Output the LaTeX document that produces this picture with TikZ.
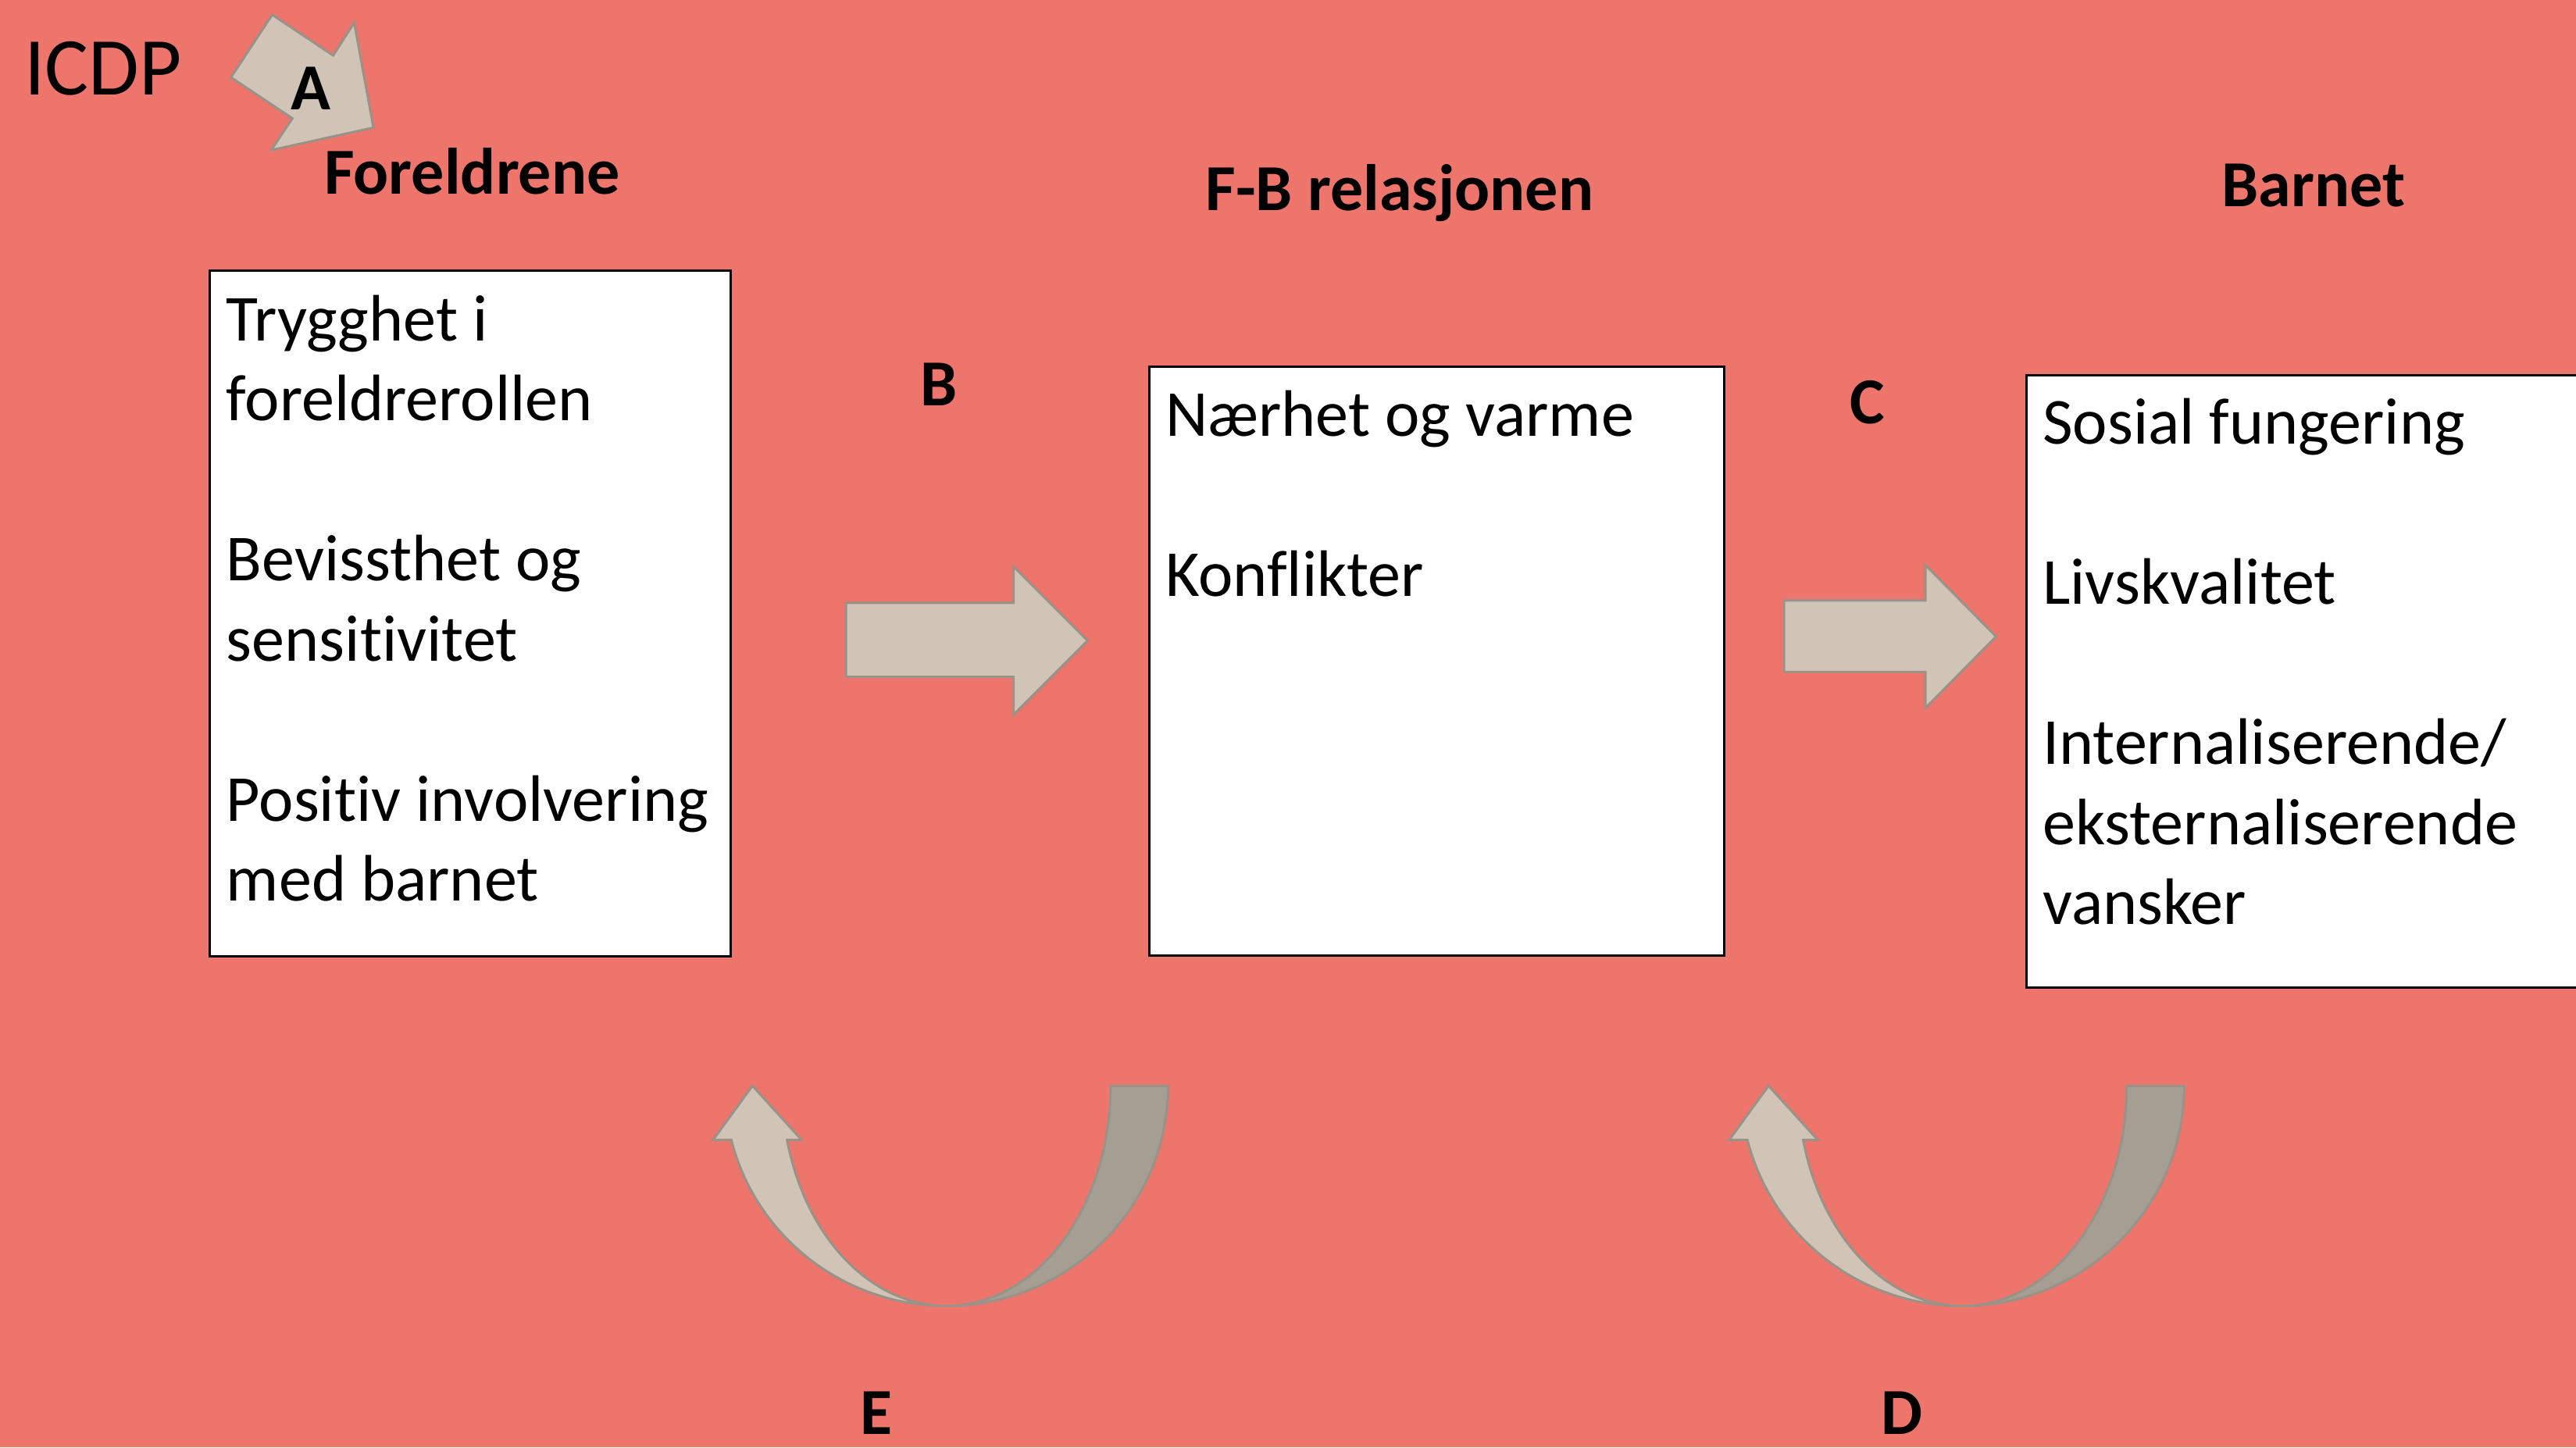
\documentclass[tikz,border=0pt]{standalone}
\usepackage{fontspec}
\setmainfont{Carlito}[Ligatures={NoCommon}]
\definecolor{bg}{RGB}{238,117,107}
\definecolor{arrowlight}{RGB}{207,196,182}
\definecolor{arrowdark}{RGB}{165,158,146}
\definecolor{arrowedge}{RGB}{152,146,137}
\tikzset{
  box/.style={draw=black, line width=0.8pt, fill=white, inner sep=0pt, anchor=north west},
  bodytext/.style={anchor=base west, inner sep=0pt, font=\fontsize{22.76pt}{27.72pt}\selectfont},
  head/.style={anchor=base west, inner sep=0pt, font=\fontsize{22.76pt}{27.72pt}\selectfont\bfseries},
  letter/.style={anchor=base, inner sep=0pt, font=\fontsize{22.76pt}{27.72pt}\selectfont\bfseries},
  blockarrow/.style={fill=arrowlight, draw=arrowedge, line width=0.8pt, line join=miter},
  curvedup/.pic={
    \path[fill=arrowdark, draw=arrowedge, line width=0.8pt]
      (100,0) arc[start angle=0, end angle=-90, x radius=2cm, y radius=2.68cm]
      arc[start angle=-90, end angle=0, x radius=2.7cm, y radius=2.68cm] -- cycle;
    \path[fill=arrowlight, draw=arrowedge, line width=0.8pt, line join=miter]
      (-96.92,-33) arc[start angle=194.26, end angle=270, x radius=2cm, y radius=2.68cm]
      arc[start angle=270, end angle=194.26, x radius=2.7cm, y radius=2.68cm]
      -- (-142,-33) -- (-118,0) -- (-88,-33) -- cycle;
  }
}
\begin{document}
\begin{tikzpicture}[x=0.02cm, y=0.02cm]
\useasboundingbox (0,0) rectangle (1568,881);
\clip (0,0) rectangle (1568,881);
\fill[bg] (0,0) rectangle (1568,881);

% title
\node[anchor=base west, inner sep=0pt, font=\fontsize{28.45pt}{34pt}\selectfont] (icdp) at (14.6,823) {ICDP};

% arrow A
\path[blockarrow] (165.7,872) -- (202.8,847.2) -- (215.6,867.2) -- (227.3,803.3)
  -- (165.1,789.6) -- (178,808.9) -- (140.6,833.9) -- cycle;
\node[letter] (labA) at (189,814.4) {A};

% headings
\node[head] (hF) at (197,763) {Foreldrene};
\node[head] (hFB) at (733.5,753) {F-B relasjonen};
\node[head] (hB) at (1352,755) {Barnet};

% boxes
\node[box, minimum width=6.34cm, minimum height=8.35cm] (box1) at (127,717) {};
\node[box, minimum width=7.0cm, minimum height=7.17cm] (box2) at (699,658.5) {};
\node[box, minimum width=6.94cm, minimum height=7.456cm] (box3) at (1233,653.2) {};

\node[bodytext] (t1) at (137.5,673.5) {\vtop{\hbox{Trygghet i}\hbox{foreldrerollen}\hbox{}\hbox{Bevissthet og}\hbox{sensitivitet}\hbox{}\hbox{Positiv involvering}\hbox{med barnet}}};
\node[bodytext] (t2) at (709,615.5) {\vtop{\hbox{Nærhet og varme}\hbox{}\hbox{Konflikter}}};
\node[bodytext] (t3) at (1243,610.5) {\vtop{\hbox{Sosial fungering}\hbox{}\hbox{Livskvalitet}\hbox{}\hbox{Internaliserende/}\hbox{eksternaliserende}\hbox{vansker}}};

% straight arrows
\path[blockarrow] (515,514) -- (617,514) -- (617,536) -- (662,491) -- (617,446) -- (617,469) -- (515,469) -- cycle;
\path[blockarrow] (1086,515.4) -- (1172,515.4) -- (1172,537) -- (1215,493.5) -- (1172,450) -- (1172,472) -- (1086,472) -- cycle;
\node[letter] (labB) at (571.5,634) {B};
\node[letter] (labC) at (1136.5,623) {C};

% curved arrows
\pic at (576,220) {curvedup};
\pic at (1194.5,220) {curvedup};
\node[letter] (labE) at (533.5,8) {E};
\node[letter] (labD) at (1157.5,8) {D};
\end{tikzpicture}
\end{document}
